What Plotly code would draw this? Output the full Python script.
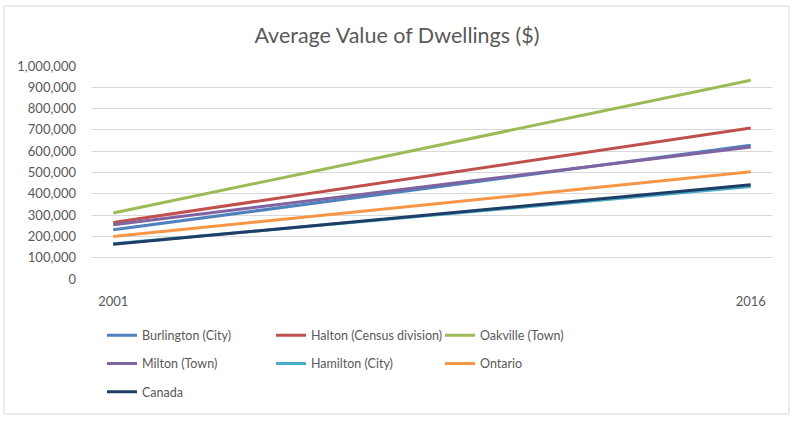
import plotly.graph_objects as go

years = [2001, 2016]
series_names = ["Burlington (City)", "Halton (Census division)", "Oakville (Town)",
                "Milton (Town)", "Hamilton (City)", "Ontario", "Canada"]
burlington = [231000, 628000]
halton = [265000, 709000]
oakville = [310000, 933000]
milton = [255000, 620000]
hamilton = [165000, 434000]
ontario = [200000, 503000]
canada = [163000, 442000]
values = [burlington, halton, oakville, milton, hamilton, ontario, canada]
colors = ["#4F81BD", "#C0504D", "#9BBB59", "#8064A2", "#4BACC6", "#F79646", "#1F3E66"]
legend_of = ["legend", "legend2", "legend3", "legend", "legend2", "legend3", "legend"]
y_ticks = [0, 100000, 200000, 300000, 400000, 500000, 600000, 700000, 800000, 900000, 1000000]
x_ticks = [2001, 2016]

FONT = "Lato, 'Open Sans', sans-serif"
GRAY = "#595959"

fig = go.Figure()
for i, (name, vals, col, lg) in enumerate(zip(series_names, values, colors, legend_of)):
    fig.add_trace(go.Scatter(
        x=years, y=vals, mode="lines", name=name,
        line=dict(color=col, width=3),
        legend=lg, legendgroup=name,
    ))

leg_common = dict(
    orientation="v", bgcolor="rgba(0,0,0,0)", tracegroupgap=9,
    font=dict(family=FONT, size=12.5, color=GRAY),
    xanchor="left", yanchor="top", y=-0.195, itemwidth=30,
    traceorder="grouped",
)

fig.update_layout(
    width=794, height=421,
    paper_bgcolor="white", plot_bgcolor="white",
    margin=dict(l=92, r=22, t=66, b=142),
    title=dict(text="Average Value of Dwellings ($)", x=0.5, xanchor="center",
               y=1 - 35 / 421, yanchor="middle",
               font=dict(family=FONT, size=21.5, color=GRAY)),
    xaxis=dict(range=[2000.5, 2016.5], tickvals=x_ticks, ticktext=[str(v) for v in x_ticks],
               showgrid=False, zeroline=False, showline=False, ticks="",
               tickfont=dict(family=FONT, size=13, color=GRAY), ticklabelstandoff=13),
    yaxis=dict(range=[0, 1000000], tickvals=y_ticks, tickformat=",d",
               showgrid=True, gridcolor="#D9D9D9", gridwidth=1, zeroline=False,
               showline=False, ticks="",
               tickfont=dict(family=FONT, size=13, color=GRAY), ticklabelstandoff=15),
    legend=dict(x=(102 - 92) / 680, **leg_common),
    legend2=dict(x=(271 - 92) / 680, **leg_common),
    legend3=dict(x=(440 - 92) / 680, **leg_common),
    shapes=[dict(type="rect", xref="paper", yref="paper",
                 x0=(4 - 92) / 680, x1=(789 - 92) / 680,
                 y0=(279 - 414) / 213, y1=(279 - 6) / 213,
                 line=dict(color="#D9D9D9", width=1), layer="below")],
)

fig.write_html("out.html", config={"displayModeBar": False},
               post_script="document.body.style.margin='0';")
